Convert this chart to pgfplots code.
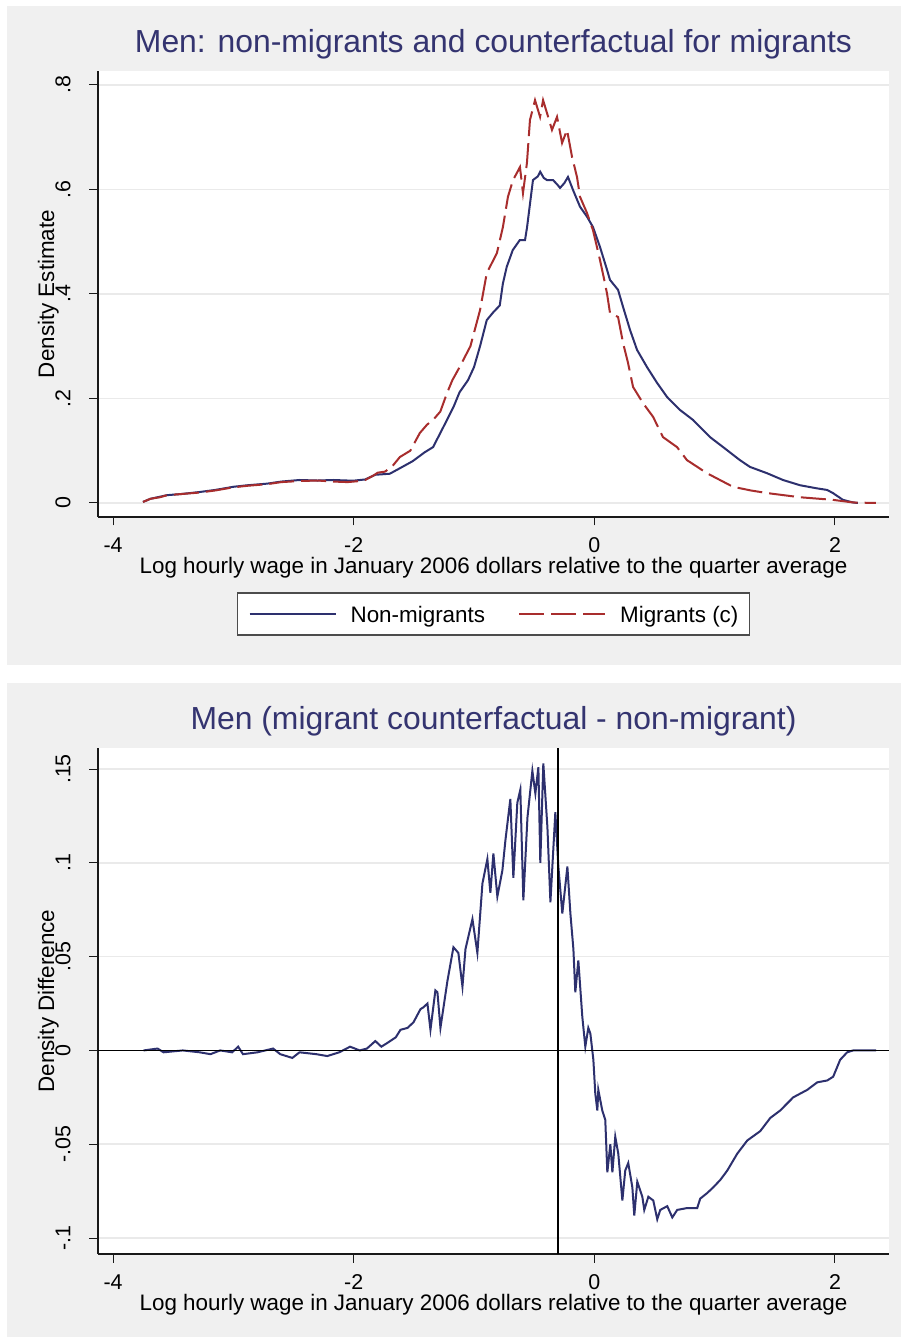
\documentclass[border=0pt]{standalone}
\usepackage{fontspec}
\setmainfont{Liberation Sans}
\usepackage{pgfplots}
\pgfplotsset{compat=1.18}
\definecolor{navyline}{RGB}{45,48,110}
\definecolor{maroonline}{RGB}{168,45,45}
\definecolor{titlecol}{RGB}{52,52,112}
\definecolor{panelbg}{RGB}{240,240,240}
\definecolor{gridc}{RGB}{234,234,234}
\definecolor{axisc}{RGB}{25,25,25}
\pgfplotsset{
  stata/.style={
    scale only axis,
    width=791bp,
    axis lines=left,
    axis line style={-, axisc, line width=1.3bp},
    tick align=outside,
    major tick length=8.5bp,
    tick style={axisc, line width=1bp},
    ymajorgrids, grid style={gridc, line width=1.5bp},
    xmin=-4.125, xmax=2.449,
    xtick={-4,-2,0,2}, xticklabels={-4,-2,0,2},
    yticklabel style={xshift=-19bp, rotate=90, anchor=base, inner sep=0pt},
    tick label style={font=\fontsize{21.5}{24}\selectfont},
    label style={font=\fontsize{22.5}{26}\selectfont, inner sep=0pt},
    title style={font=\fontsize{32}{36}\selectfont, text=titlecol, at={(0.5,1)}, anchor=base, yshift=13bp},
    axis background/.style={fill=white},
  }
}
\begin{document}
\begin{tikzpicture}
\fill[white] (0bp,0bp) rectangle (902bp,1338bp);
\fill[panelbg] (7bp,673bp) rectangle (901bp,1332bp);
\fill[panelbg] (7bp,1bp) rectangle (901bp,655bp);

% ---------- top panel ----------
\begin{axis}[stata, at={(98bp,821bp)}, anchor=south west, height=446bp,
  ymin=-0.0268, ymax=0.8268,
  xticklabel style={anchor=base, inner sep=0pt, yshift=-27bp},
  ytick={0,0.2,0.4,0.6,0.8}, yticklabels={0,.2,.4,.6,.8},
  title={Men: non-migrants and counterfactual for migrants},
  xlabel={Log hourly wage in January 2006 dollars relative to the quarter average},
  xlabel style={at={(axis description cs:0.5,-0.1268)}, anchor=base},
  ylabel={Density Estimate},
  ylabel style={at={(axis description cs:-0.0556,0.5)}, anchor=base},
  legend columns=2,
  legend style={at={(axis description cs:0.5,-0.1682)}, anchor=north,
    draw=black!70, line width=1.5bp, fill=white,
    font=\fontsize{22.5}{26}\selectfont,
    inner xsep=11bp, inner ysep=8bp,
    nodes={inner sep=0pt, text height=22bp, text depth=4bp},
    /tikz/every odd column/.append style={column sep=14bp},
    /tikz/every even column/.append style={column sep=33bp}},
  legend image code/.code={\draw[#1] (0bp,0bp) -- (86bp,0bp);},
]
\addplot[navyline, line width=2bp] table {
-3.751 0.002
-3.69 0.008
-3.61 0.012
-3.55 0.015
-3.44 0.017
-3.36 0.019
-3.28 0.021
-3.15 0.025
-3.00 0.031
-2.88 0.034
-2.72 0.037
-2.60 0.041
-2.45 0.044
-2.30 0.043
-2.17 0.044
-2.05 0.043
-1.99 0.043
-1.905 0.045
-1.82 0.054
-1.76 0.055
-1.70 0.056
-1.62 0.066
-1.51 0.080
-1.41 0.097
-1.34 0.107
-1.26 0.143
-1.17 0.184
-1.12 0.212
-1.05 0.235
-1.00 0.26
-0.95 0.30
-0.894 0.35
-0.84 0.365
-0.786 0.378
-0.76 0.42
-0.728 0.452
-0.678 0.484
-0.62 0.503
-0.576 0.503
-0.559 0.528
-0.534 0.574
-0.51 0.618
-0.47 0.625
-0.45 0.634
-0.42 0.622
-0.393 0.618
-0.343 0.618
-0.31 0.610
-0.285 0.603
-0.25 0.612
-0.219 0.624
-0.177 0.599
-0.119 0.567
-0.061 0.548
-0.011 0.528
0.047 0.49
0.106 0.446
0.13 0.427
0.197 0.408
0.239 0.375
0.297 0.331
0.355 0.293
0.438 0.26
0.521 0.23
0.604 0.203
0.712 0.178
0.82 0.159
0.962 0.126
1.07 0.107
1.21 0.082
1.294 0.069
1.435 0.057
1.568 0.044
1.709 0.034
1.85 0.028
1.934 0.025
1.983 0.019
2.066 0.006
2.15 0.001
2.19 0.000
};
\addlegendentry{Non-migrants}
\addplot[maroonline, line width=2bp, dash pattern=on 25bp off 7bp] table {
-3.751 0.002
-3.69 0.008
-3.61 0.011
-3.55 0.015
-3.44 0.017
-3.28 0.020
-3.15 0.024
-3.00 0.030
-2.88 0.033
-2.72 0.036
-2.60 0.040
-2.45 0.042
-2.30 0.043
-2.17 0.041
-2.05 0.040
-1.95 0.042
-1.905 0.044
-1.84 0.052
-1.80 0.058
-1.74 0.060
-1.68 0.070
-1.616 0.088
-1.53 0.100
-1.45 0.134
-1.39 0.150
-1.34 0.159
-1.28 0.175
-1.225 0.21
-1.18 0.235
-1.12 0.26
-1.03 0.30
-0.95 0.369
-0.894 0.44
-0.85 0.46
-0.81 0.478
-0.76 0.528
-0.718 0.586
-0.676 0.618
-0.643 0.632
-0.618 0.643
-0.593 0.593
-0.56 0.651
-0.535 0.733
-0.493 0.771
-0.451 0.739
-0.426 0.771
-0.393 0.746
-0.352 0.714
-0.31 0.739
-0.268 0.689
-0.227 0.714
-0.185 0.662
-0.144 0.624
-0.119 0.586
-0.061 0.555
-0.011 0.522
0.047 0.465
0.089 0.42
0.106 0.40
0.13 0.364
0.197 0.356
0.239 0.306
0.28 0.268
0.322 0.222
0.405 0.191
0.488 0.165
0.571 0.126
0.687 0.107
0.77 0.082
0.936 0.057
1.152 0.031
1.30 0.024
1.435 0.019
1.709 0.011
1.983 0.006
2.15 0.001
2.34 0.000
};
\addlegendentry{Migrants (c)}
\end{axis}

% ---------- bottom panel ----------
\begin{axis}[stata, at={(98bp,84bp)}, anchor=south west, height=506bp,
  ymin=-0.1085, ymax=0.1612,
  xticklabel style={anchor=base, inner sep=0pt, yshift=-27bp},
  ytick={-0.1,-0.05,0,0.05,0.1,0.15}, yticklabels={-.1,-.05,0,.05,.1,.15},
  title={Men (migrant counterfactual - non-migrant)},
  xlabel={Log hourly wage in January 2006 dollars relative to the quarter average},
  xlabel style={at={(axis description cs:0.5,-0.1126)}, anchor=base},
  ylabel={Density Difference},
  ylabel style={at={(axis description cs:-0.0556,0.5)}, anchor=base},
]
\addplot[navyline, line width=2bp] table {
-3.746 0.000
-3.63 0.001
-3.58 -0.001
-3.42 0.000
-3.28 -0.001
-3.19 -0.002
-3.11 0.000
-3.01 -0.001
-2.96 0.002
-2.92 -0.002
-2.80 -0.001
-2.67 0.001
-2.61 -0.002
-2.51 -0.004
-2.45 -0.001
-2.31 -0.002
-2.22 -0.003
-2.12 -0.001
-2.03 0.002
-1.95 0.000
-1.89 0.001
-1.82 0.005
-1.77 0.002
-1.72 0.004
-1.65 0.007
-1.611 0.011
-1.553 0.012
-1.503 0.015
-1.445 0.022
-1.42 0.023
-1.387 0.025
-1.362 0.011
-1.321 0.032
-1.304 0.031
-1.279 0.012
-1.221 0.037
-1.196 0.046
-1.171 0.055
-1.13 0.052
-1.096 0.034
-1.071 0.054
-1.013 0.070
-0.972 0.052
-0.93 0.089
-0.889 0.102
-0.864 0.084
-0.839 0.105
-0.806 0.082
-0.764 0.096
-0.739 0.112
-0.698 0.134
-0.673 0.092
-0.64 0.132
-0.615 0.139
-0.59 0.080
-0.556 0.124
-0.515 0.149
-0.49 0.137
-0.465 0.151
-0.449 0.100
-0.424 0.153
-0.39 0.119
-0.365 0.079
-0.324 0.127
-0.299 0.098
-0.266 0.073
-0.224 0.098
-0.199 0.073
-0.174 0.054
-0.158 0.031
-0.133 0.048
-0.10 0.018
-0.075 0.002
-0.05 0.012
-0.033 0.009
-0.008 -0.005
0.008 -0.023
0.025 -0.032
0.033 -0.021
0.066 -0.032
0.091 -0.037
0.108 -0.065
0.133 -0.050
0.15 -0.065
0.174 -0.046
0.199 -0.055
0.233 -0.080
0.257 -0.064
0.282 -0.060
0.316 -0.073
0.332 -0.088
0.357 -0.070
0.399 -0.078
0.415 -0.085
0.449 -0.078
0.49 -0.080
0.523 -0.090
0.548 -0.085
0.606 -0.083
0.648 -0.089
0.689 -0.085
0.772 -0.084
0.855 -0.084
0.88 -0.079
0.938 -0.076
0.988 -0.073
1.047 -0.069
1.105 -0.064
1.188 -0.055
1.271 -0.048
1.379 -0.043
1.462 -0.036
1.545 -0.032
1.653 -0.025
1.77 -0.021
1.853 -0.017
1.936 -0.016
1.985 -0.014
2.043 -0.005
2.101 -0.001
2.151 0.000
2.342 0.000
};
\addplot[black, line width=1.8bp] coordinates {(-4.125,0) (2.449,0)};
\addplot[black, line width=1.8bp] coordinates {(-0.3,-0.1085) (-0.3,0.1612)};
\end{axis}
\pgfresetboundingbox
\useasboundingbox (0bp,0bp) rectangle (902bp,1338bp);
\end{tikzpicture}
\end{document}
